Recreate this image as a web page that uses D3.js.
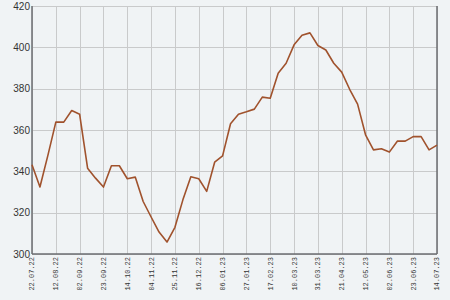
<!DOCTYPE html>
<html>
<head>
<meta charset="utf-8">
<script src="https://cdn.jsdelivr.net/npm/d3@7"></script>
<style>
  html, body { margin: 0; padding: 0; background: #f0f3f5; }
  svg { display: block; }
</style>
</head>
<body>
<svg id="chart" width="450" height="300"></svg>
<script>
// weekly series, first point 22.07.22
const startDate = "22.07.22";
const values = [
  343.2, 332.4, 347.7, 363.8, 363.8, 369.4, 367.6, 341.5, 336.7, 332.4,
  342.7, 342.7, 336.4, 337.2, 325.4, 317.9, 310.6, 305.8, 312.9, 326.2,
  337.4, 336.4, 330.3, 344.4, 347.5, 363.0, 367.6, 368.8, 370.1, 375.9,
  375.4, 387.5, 392.3, 401.2, 405.8, 407.0, 400.9, 398.7, 392.3, 388.0,
  379.7, 372.5, 357.7, 350.4, 350.9, 349.3, 354.6, 354.6, 356.8, 356.8,
  350.4, 352.7
];
const xTickLabels = [
  "22.07.22", "12.08.22", "02.09.22", "23.09.22", "14.10.22", "04.11.22",
  "25.11.22", "16.12.22", "06.01.23", "27.01.23", "17.02.23", "10.03.23",
  "31.03.23", "21.04.23", "12.05.23", "02.06.23", "23.06.23", "14.07.23"
];
const yTicks = [300, 320, 340, 360, 380, 400, 420];

const parse = d3.timeParse("%d.%m.%y");
const fmt = d3.timeFormat("%d.%m.%y");
const t0 = parse(startDate);
const data = values.map((v, i) => ({ date: d3.timeDay.offset(t0, i * 7), value: v }));
const tickDates = xTickLabels.map(parse);

const svg = d3.select("#chart");
const margin = { left: 32, right: 13, top: 6, bottom: 46 };
const W = 450, H = 300;

const x = d3.scaleTime()
  .domain([tickDates[0], tickDates[tickDates.length - 1]])
  .range([margin.left, W - margin.right]);
const y = d3.scaleLinear()
  .domain([300, 420])
  .range([H - margin.bottom, margin.top]);

// grid
const grid = svg.append("g").attr("stroke", "#c9cacb").attr("stroke-width", 1);
grid.selectAll("line.v").data(tickDates).join("line")
  .attr("class", "v")
  .attr("x1", d => Math.round(x(d)) + 0.5).attr("x2", d => Math.round(x(d)) + 0.5)
  .attr("y1", y(420)).attr("y2", y(300));
grid.selectAll("line.h").data(yTicks).join("line")
  .attr("class", "h")
  .attr("x1", x.range()[0]).attr("x2", x.range()[1])
  .attr("y1", d => Math.round(y(d)) + 0.5).attr("y2", d => Math.round(y(d)) + 0.5);

// axis frame lines
const frame = svg.append("g").attr("stroke", "#6b6d70").attr("stroke-width", 1.5);
frame.append("line")
  .attr("x1", x.range()[0]).attr("x2", x.range()[0])
  .attr("y1", y(420)).attr("y2", y(300));
frame.append("line")
  .attr("x1", x.range()[1]).attr("x2", x.range()[1])
  .attr("y1", y(420)).attr("y2", y(300));
frame.append("line")
  .attr("x1", x.range()[0]).attr("x2", x.range()[1])
  .attr("y1", y(300)).attr("y2", y(300));

// y labels
svg.append("g")
  .selectAll("text").data(yTicks).join("text")
  .attr("x", margin.left - 2)
  .attr("y", d => y(d))
  .attr("dy", "0.35em")
  .attr("text-anchor", "end")
  .attr("font-family", "Liberation Sans, Arial, sans-serif")
  .attr("font-size", 10)
  .attr("fill", "#333")
  .text(d => d);

// x labels, rotated
svg.append("g")
  .selectAll("text").data(tickDates).join("text")
  .attr("transform", d => `translate(${x(d)},${y(300) + 3}) rotate(-90)`)
  .attr("dy", "0.35em")
  .attr("text-anchor", "end")
  .attr("font-family", "Liberation Mono, DejaVu Sans Mono, monospace")
  .attr("font-size", 7)
  .attr("fill", "#333")
  .text(d => fmt(d));

// series line
const line = d3.line()
  .x(d => x(d.date))
  .y(d => y(d.value));

svg.append("path")
  .datum(data)
  .attr("fill", "none")
  .attr("stroke", "#a0522d")
  .attr("stroke-width", 1.6)
  .attr("stroke-linejoin", "round")
  .attr("d", line);
</script>
</body>
</html>
